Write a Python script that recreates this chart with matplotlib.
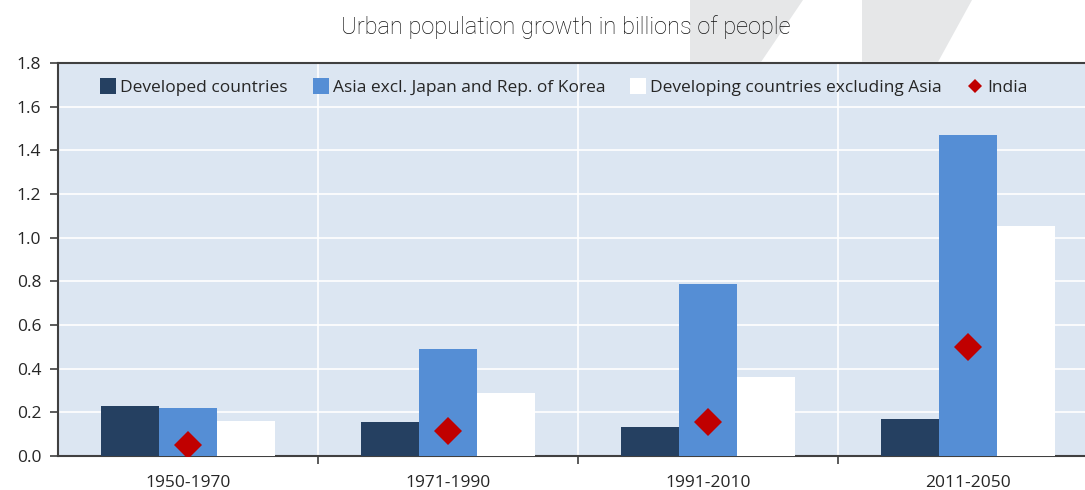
import matplotlib
matplotlib.use("Agg")
import matplotlib.pyplot as plt
from matplotlib.lines import Line2D
from matplotlib.patches import Polygon
import numpy as np

periods = ["1950-1970", "1971-1990", "1991-2010", "2011-2050"]
developed = [0.23, 0.158, 0.131, 0.17]
asia = [0.22, 0.49, 0.788, 1.47]
developing_ex_asia = [0.16, 0.287, 0.362, 1.055]
india = [0.05, 0.116, 0.157, 0.50]
series_names = ["Developed countries", "Asia excl. Japan and Rep. of Korea",
                "Developing countries excluding Asia", "India"]
yticks = [0.0, 0.2, 0.4, 0.6, 0.8, 1.0, 1.2, 1.4, 1.6, 1.8]

c_dev = "#254061"
c_asia = "#558ED5"
c_white = "#FFFFFF"
c_india = "#C00000"
bg = "#DCE6F2"
txt = "#262626"

plt.rcParams['font.family'] = ['Open Sans', 'DejaVu Sans']

W, H = 1085, 490
fig = plt.figure(figsize=(W / 100, H / 100), dpi=100)

# decorative grey shapes behind title
def px(x, y):
    return (x / W, 1 - y / H)
for pts in [[(690, 0), (803, 0), (761, 62), (690, 62)],
            [(862, 0), (972, 0), (938, 62), (862, 62)]]:
    fig.patches.append(Polygon([px(*p) for p in pts], closed=True,
                               transform=fig.transFigure, facecolor="#E6E7E8",
                               edgecolor="none", zorder=0))

left, right, top, bottom = 58, 1098, 63, 456
ax = fig.add_axes([left / W, 1 - bottom / H, (right - left) / W, (bottom - top) / H])
ax.set_facecolor(bg)

x = np.arange(len(periods))
w = 58 / 260
ax.bar(x - w, developed, w, color=c_dev, zorder=3)
ax.bar(x, asia, w, color=c_asia, zorder=3)
ax.bar(x + w, developing_ex_asia, w, color=c_white, zorder=3)
ax.plot(x, india, linestyle="none", marker="D", markersize=14, color=c_india,
        markeredgewidth=0, zorder=4)

ax.set_xlim(-0.5, 3.5)
ax.set_ylim(0, 1.8)
ax.set_yticks(yticks)
ax.set_yticklabels([f"{v:.1f}" for v in yticks], fontsize=12.5, color=txt)
ax.set_xticks([0.5, 1.5, 2.5], minor=False)
ax.set_xticklabels([])
ax.set_xticks(x, minor=True)
ax.set_xticklabels(periods, minor=True, fontsize=12.5, color=txt)
ax.tick_params(axis="x", which="minor", length=0, pad=14)
ax.tick_params(axis="x", which="major", length=6, width=1.2, color="#404040", direction="out")
ax.tick_params(axis="y", length=6, width=1.2, color="#404040", pad=6)

ax.yaxis.grid(True, color="white", linewidth=1.2, zorder=1)
ax.xaxis.grid(True, which="major", color="white", linewidth=1.2, zorder=1)
ax.set_axisbelow(True)
for s in ["left", "bottom", "top"]:
    ax.spines[s].set_color("#404040")
    ax.spines[s].set_linewidth(1.5)
ax.spines["right"].set_visible(False)

handles = [Line2D([], [], linestyle="none", marker="s", markersize=11, color=c_dev, markeredgewidth=0),
           Line2D([], [], linestyle="none", marker="s", markersize=11, color=c_asia, markeredgewidth=0),
           Line2D([], [], linestyle="none", marker="s", markersize=11, color=c_white, markeredgewidth=0),
           Line2D([], [], linestyle="none", marker="D", markersize=7, color=c_india, markeredgewidth=0)]
leg = ax.legend(handles, series_names, ncol=4, frameon=False, loc="upper left",
                bbox_to_anchor=(36 / (right - left), 1.0 - 10 / (bottom - top)),
                fontsize=12.5, handlelength=0.8, handletextpad=0.3, columnspacing=1.5,
                borderaxespad=0)
for t in leg.get_texts():
    t.set_color(txt)

fig.text(566 / W, 1 - 27 / H, "Urban population growth in billions of people",
         ha="center", va="center", fontsize=17, color="#111111", fontweight="light",
         family=["Roboto", "DejaVu Sans"], zorder=2)

fig.savefig("out.png", dpi=100)
